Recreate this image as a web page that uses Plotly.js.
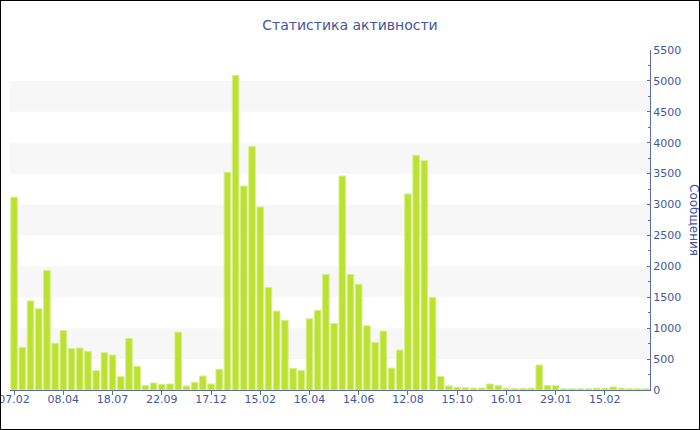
<!DOCTYPE html>
<html>
<head>
<meta charset="utf-8">
<script src="https://cdn.plot.ly/plotly-3.0.1.min.js"></script>
<style>
html,body{margin:0;padding:0;background:#fff;}
#chart{width:698px;height:428px;border:1px solid #000;overflow:hidden;}
</style>
</head>
<body>
<div id="chart"></div>
<script>
var titleText = "Статистика активности";
var axisTitle = "Сообщения";
var values = [3120, 690, 1440, 1315, 1935, 755, 960, 670, 680, 625, 312, 605, 565, 215, 835, 382, 70, 113, 92, 97, 937, 65, 124, 226, 97, 334,
  3520, 5090, 3300, 3937, 2961, 1659, 1276, 1126, 350, 318, 1152, 1287, 1869, 1077, 3462, 1869, 1712, 1039, 770, 953, 355, 646, 3171, 3796, 3711, 1497,
  218, 65, 45, 38, 32, 32, 97, 70, 25, 25, 25, 30, 404, 75, 70, 20, 20, 20, 20, 30, 30, 50, 30, 20, 20, 20];
var tickLabels = ["07.02","08.04","18.07","22.09","17.12","15.02","16.04","14.06","12.08","15.10","16.01","29.01","15.02"];
var tickStep = 6;
var yMax = 5500, yStep = 500;

var xs = values.map(function(v,i){return i;});
var tickVals = tickLabels.map(function(t,i){return i*tickStep;});

var textColor = "#3f56a1";
var axisColor = "#5a6ba6";

var shapes = [];
for (var b = yStep; b < yMax; b += 2*yStep) {
  shapes.push({type:"rect", xref:"paper", yref:"y", x0:0, x1:1, y0:b, y1:b+yStep,
    fillcolor:"#f7f7f7", line:{width:0}, layer:"below"});
}

var trace = {
  type:"bar", x:xs, y:values,
  marker:{color:"#bce130", line:{color:"#d8ee8c", width:1}},
  hoverinfo:"y"
};

var layout = {
  width:698, height:428,
  margin:{l:9, r:49, t:49, b:39},
  paper_bgcolor:"#fff", plot_bgcolor:"rgba(0,0,0,0)",
  bargap:0.2,
  showlegend:false,
  font:{family:"DejaVu Sans, Verdana, sans-serif", color:textColor, size:11},
  title:{text:titleText, font:{size:14, color:textColor}, x:0.5, xanchor:"center", y:1-24/428, yref:"container", yanchor:"middle"},
  xaxis:{range:[-0.5, values.length-0.5], tickmode:"array", tickvals:tickVals, ticktext:tickLabels,
    showgrid:false, zeroline:false, showline:true, linecolor:axisColor, linewidth:1,
    ticks:"outside", ticklen:4, tickcolor:axisColor, tickfont:{size:11, color:textColor},
    ticklabeloverflow:"allow", ticklabelstandoff:-5},
  yaxis:{side:"right", range:[0,yMax], dtick:yStep, tick0:0, showgrid:false, zeroline:false,
    showline:true, linecolor:axisColor, linewidth:1, ticks:"inside", ticklen:3, tickcolor:axisColor,
    minor:{dtick:yStep/2, ticks:"inside", ticklen:2, tickcolor:axisColor, showgrid:false},
    tickfont:{size:11, color:textColor}},
  shapes:shapes,
  annotations:[{text:axisTitle, xref:"paper", yref:"paper", x:(693-9)/640, y:0.5, textangle:90,
    showarrow:false, font:{size:12, color:textColor}, xanchor:"center", yanchor:"middle"}]
};

Plotly.newPlot("chart", [trace], layout, {displayModeBar:false, staticPlot:true});
</script>
</body>
</html>
